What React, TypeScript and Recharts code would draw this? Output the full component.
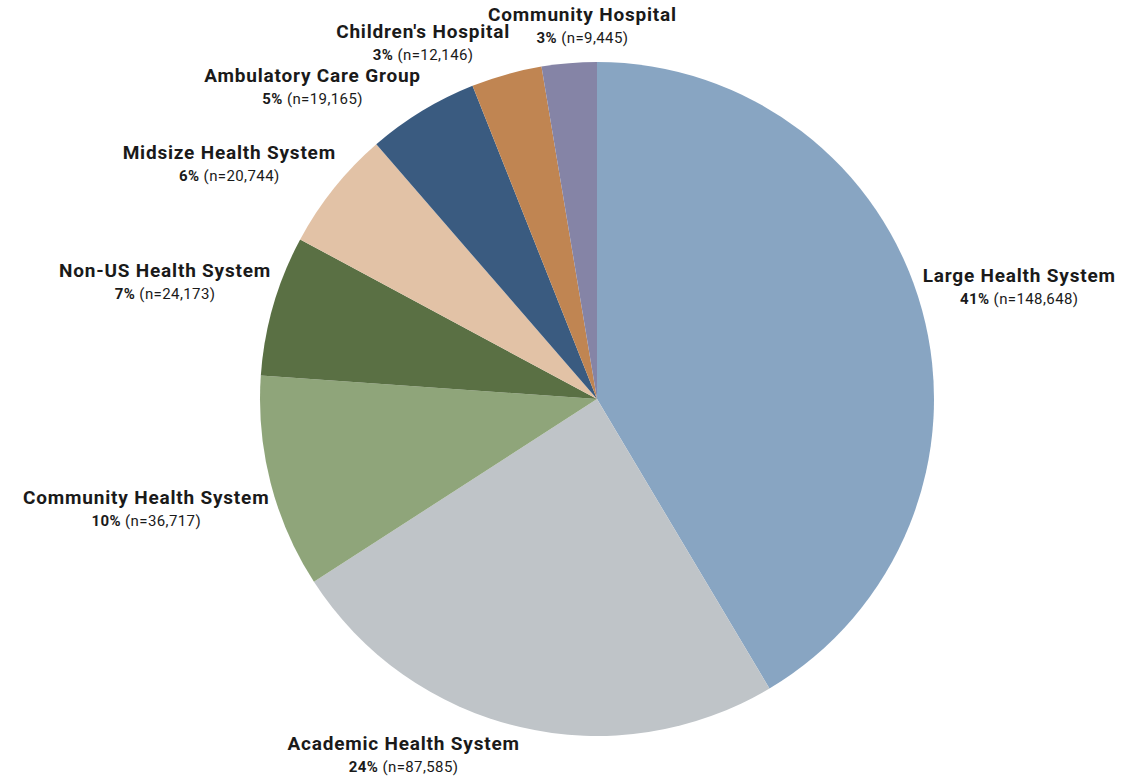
import React from "react";
import { PieChart, Pie, Cell } from "recharts";

const categories = [
  "Large Health System",
  "Academic Health System",
  "Community Health System",
  "Non-US Health System",
  "Midsize Health System",
  "Ambulatory Care Group",
  "Children's Hospital",
  "Community Hospital",
];
const counts = [148648, 87585, 36717, 24173, 20744, 19165, 12146, 9445];

const sliceColors = [
  "#88A5C2",
  "#BFC4C8",
  "#8FA57A",
  "#5A7044",
  "#E2C2A6",
  "#3A5B80",
  "#C08552",
  "#8584A6",
];

// nudges for the labels, from the default spot just outside each slice
const labelNudge: [number, number][] = [
  [78, -18],
  [-112, 7],
  [-105, 20],
  [-89, -19],
  [-89, -13],
  [-99, -8],
  [-78, -13],
  [15, -18],
];

const total = counts.reduce((s, v) => s + v, 0);
const data = categories.map((name, i) => ({ name, value: counts[i] }));

const RADIAN = Math.PI / 180;
const fontFamily = "Roboto, 'Noto Sans', sans-serif";

function renderLabel(props: any) {
  const { cx, cy, midAngle, outerRadius, index, value } = props;
  const r = outerRadius + 20;
  const x = cx + r * Math.cos(-midAngle * RADIAN) + labelNudge[index][0];
  const y = cy + r * Math.sin(-midAngle * RADIAN) + labelNudge[index][1];
  const pct = Math.round((value / total) * 100);
  return (
    <text
      x={x}
      y={y}
      textAnchor="middle"
      fill="#1a1a1a"
      style={{ fontFamily }}
    >
      <tspan x={x} dy={-4} fontSize={19} fontWeight={700} letterSpacing={0.8}>
        {categories[index]}
      </tspan>
      <tspan x={x} dy={22} fontSize={15} fontWeight={700} letterSpacing={0.4}>
        {pct}%
        <tspan fontWeight={400}>{` (n=${value.toLocaleString("en-US")})`}</tspan>
      </tspan>
    </text>
  );
}

export default function App() {
  return (
    <div style={{ position: "fixed", left: 0, top: 0, background: "#fff" }}>
      <PieChart
        width={1130}
        height={778}
        margin={{ top: 0, right: 0, bottom: 0, left: 0 }}
      >
        <Pie
          data={data}
          dataKey="value"
          cx={597}
          cy={399}
          outerRadius={337}
          startAngle={90}
          endAngle={-270}
          stroke="none"
          label={renderLabel}
          labelLine={false}
          isAnimationActive={false}
        >
          {data.map((entry, index) => (
            <Cell key={`cell-${index}`} fill={sliceColors[index]} />
          ))}
        </Pie>
      </PieChart>
    </div>
  );
}
